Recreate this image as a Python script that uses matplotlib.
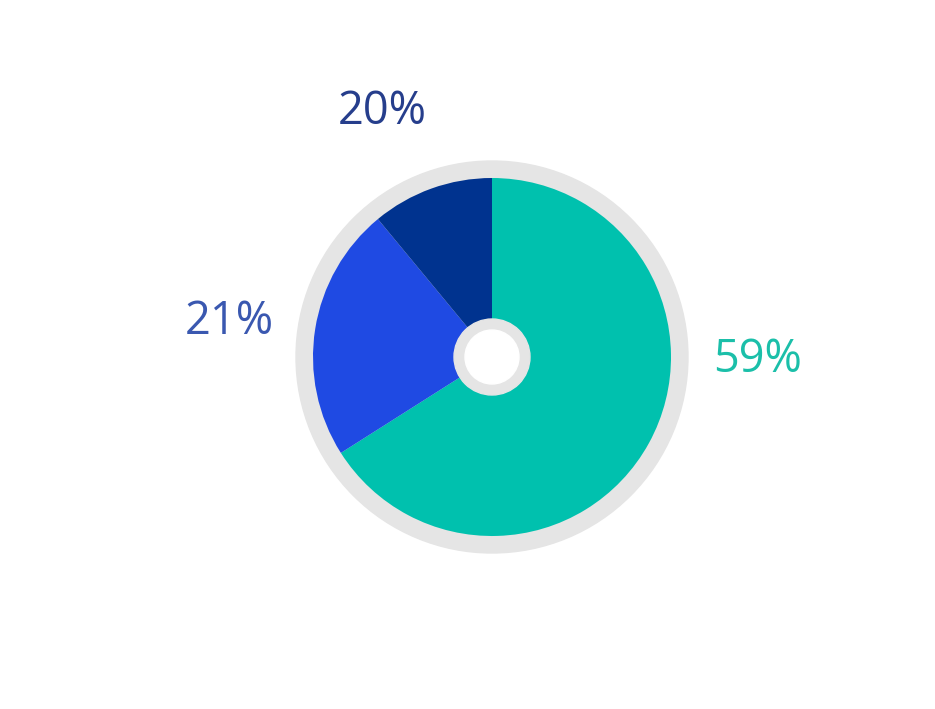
import matplotlib.pyplot as plt
from matplotlib.patches import Circle

# slice sizes as drawn, and the labels printed next to them
values = [66, 23, 11]
labels = ['59%', '21%', '20%']
colors = ['#00c1ae', '#1f4ae3', '#00338f']
label_colors = ['#1bbfa9', '#3a58b0', '#263e8c']

plt.rcParams['font.family'] = ['Open Sans', 'DejaVu Sans']

fig = plt.figure(figsize=(9.35, 7.09), dpi=100)
ax = fig.add_axes([0, 0, 1, 1])

cx, cy = 492, 709 - 357

ax.add_patch(Circle((cx, cy), 196, color='#e5e5e5', zorder=1))
ax.pie(values, colors=colors, startangle=90, counterclock=False,
       radius=179, center=(cx, cy), frame=True,
       wedgeprops=dict(linewidth=0, zorder=2))
ax.add_patch(Circle((cx, cy), 38, color='#e5e5e5', zorder=3))
ax.add_patch(Circle((cx, cy), 27, color='white', zorder=4))

ax.set_xlim(0, 935)
ax.set_ylim(0, 709)
ax.set_aspect('equal')
ax.axis('off')

pos = [(758, 709 - 360), (229, 709 - 322), (382, 709 - 112)]
for lab, c, (x, y) in zip(labels, label_colors, pos):
    ax.text(x, y, lab, color=c, fontsize=32.5, ha='center', va='center')

fig.savefig('out.png', dpi=100)
